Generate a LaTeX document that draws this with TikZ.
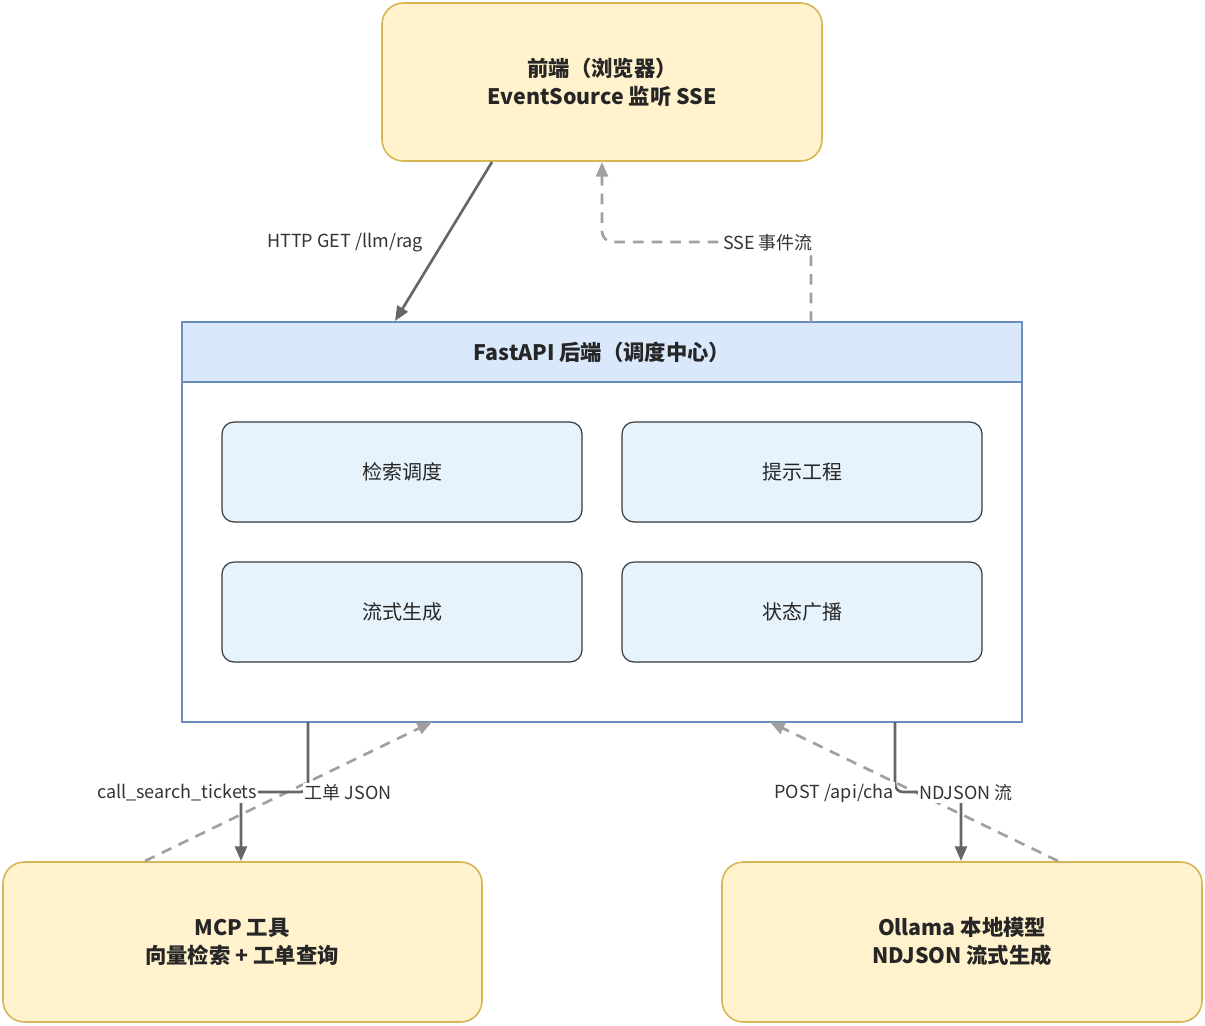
\documentclass[tikz,border=0pt]{standalone}
\usepackage{fontspec}
\setmainfont{Noto Sans CJK SC}
\usetikzlibrary{arrows.meta}
\definecolor{ylwfill}{HTML}{FFF2CC}
\definecolor{ylwline}{HTML}{D6B656}
\definecolor{bluefill}{HTML}{DAE8FC}
\definecolor{blueline}{HTML}{6C8EBF}
\definecolor{modfill}{HTML}{E6F2FC}
\definecolor{modline}{HTML}{36393D}
\definecolor{solidarr}{HTML}{666666}
\definecolor{dasharr}{HTML}{A0A0A0}
\tikzset{
  outer/.style={draw=ylwline,fill=ylwfill,line width=1.2pt,rounded corners=16pt,
    align=center,font=\fontsize{16}{21}\selectfont\bfseries,text=black!85},
  module/.style={draw=modline,fill=modfill,line width=0.9pt,rounded corners=9pt,
    font=\fontsize{15}{18}\selectfont,text=black!85},
  req/.style={-{Triangle[length=11pt,width=9pt]},draw=solidarr,line width=2pt},
  resp/.style={-{Triangle[length=11pt,width=9pt]},draw=dasharr,line width=2pt,dash pattern=on 8pt off 6pt},
  elabel/.style={font=\fontsize{13.5}{16}\selectfont,text=black!80,fill=white,inner sep=1pt}
}
\begin{document}
\begin{tikzpicture}[x=0.75pt,y=-0.75pt]
  \useasboundingbox (0,0) rectangle (1205,1025);

  % external parts
  \draw[outer] (382,3) rectangle (822,161);
  \node[font=\fontsize{16}{21}\selectfont\bfseries,align=center,text=black!85] (front) at (602,82)
    {前端（浏览器）\\EventSource 监听 SSE};
  \draw[outer] (3,862) rectangle (482,1022);
  \node[font=\fontsize{16}{21}\selectfont\bfseries,align=center,text=black!85] (mcp) at (242,942)
    {MCP 工具\\向量检索 + 工单查询};
  \draw[outer] (722,862) rectangle (1202,1022);
  \node[font=\fontsize{16}{21}\selectfont\bfseries,align=center,text=black!85] (llm) at (962,942)
    {Ollama 本地模型\\NDJSON 流式生成};

  % backend
  \draw[blueline,fill=white,line width=1.2pt] (182,322) rectangle (1022,722);
  \draw[blueline,fill=bluefill,line width=1.2pt] (182,322) rectangle (1022,382);
  \node[font=\fontsize{16}{20}\selectfont\bfseries,text=black!85] (api) at (602,352)
    {FastAPI 后端（调度中心）};

  \draw[module] (222,422) rectangle (582,522);
  \node[font=\fontsize{15}{18}\selectfont,text=black!85] (search) at (402,472) {检索调度};
  \draw[module] (622,422) rectangle (982,522);
  \node[font=\fontsize{15}{18}\selectfont,text=black!85] (prompt) at (802,472) {提示工程};
  \draw[module] (222,562) rectangle (582,662);
  \node[font=\fontsize{15}{18}\selectfont,text=black!85] (stream) at (402,612) {流式生成};
  \draw[module] (622,562) rectangle (982,662);
  \node[font=\fontsize{15}{18}\selectfont,text=black!85] (status) at (802,612) {状态广播};

  % connector ends
  \coordinate (frontOut) at (492,162);
  \coordinate (apiIn) at (395,321);
  \coordinate (apiOut) at (811,322);
  \coordinate (frontIn) at (602,162);
  \coordinate (mcpCall) at (308,722);
  \coordinate (mcpIn) at (241,861);
  \coordinate (mcpOut) at (145,861);
  \coordinate (mcpBack) at (432,722);
  \coordinate (llmCall) at (895,722);
  \coordinate (llmIn) at (961,861);
  \coordinate (llmOut) at (1058,861);
  \coordinate (llmBack) at (770,722);

  \draw[req] (frontOut) -- (apiIn);
  \node[elabel,fill=none] (getLbl) at (345,243) {HTTP GET /llm/rag};
  \draw[resp,rounded corners=8pt] (apiOut) |- (602,242) -- (frontIn);
  \node[elabel] (sseLbl) at (768,243) {SSE 事件流};

  \draw[resp] (mcpOut) -- (mcpBack);
  \draw[req,rounded corners=6pt] (mcpCall) -- (308,792) -- (241,792) -- (mcpIn);
  \draw[resp] (llmOut) -- (llmBack);
  \draw[req,rounded corners=6pt] (llmCall) -- (895,792) -- (961,792) -- (llmIn);

  \node[elabel] (callLbl) at (177,793) {call\_search\_tickets};
  \node[elabel] (jsonLbl) at (348,793) {工单 JSON};
  \node[elabel] (postLbl) at (834,793) {POST /api/cha};
  \node[elabel] (ndLbl) at (966,793) {NDJSON 流};
\end{tikzpicture}
\end{document}
